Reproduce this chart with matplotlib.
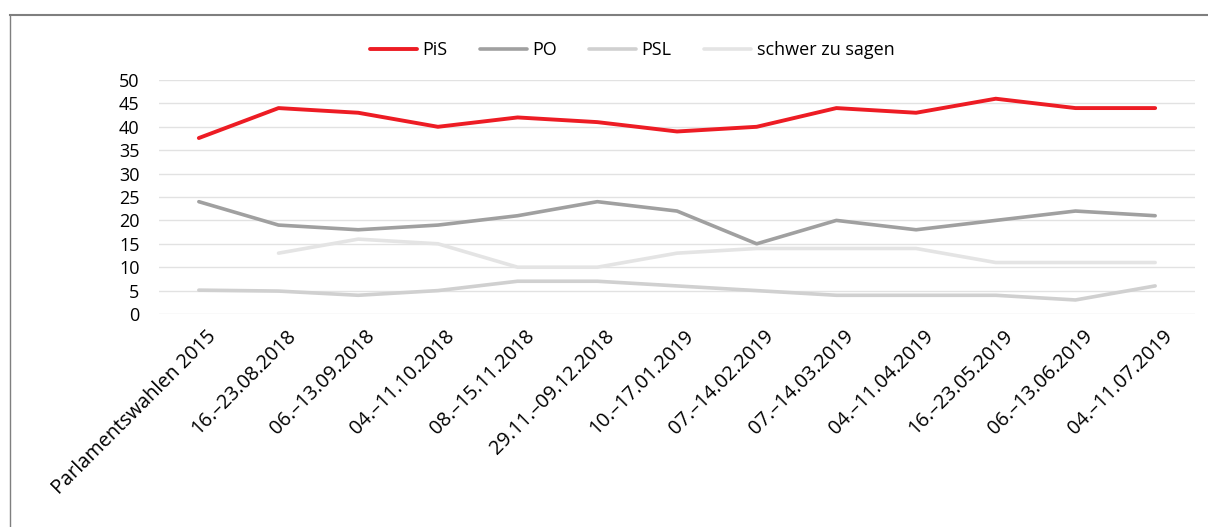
import numpy as np
import matplotlib.pyplot as plt
import matplotlib.transforms as mtransforms
from matplotlib.lines import Line2D

# Daten (Umfragewerte in %)
termine = ["Parlamentswahlen 2015", "16.–23.08.2018", "06.–13.09.2018", "04.–11.10.2018",
           "08.–15.11.2018", "29.11.–09.12.2018", "10.–17.01.2019", "07.–14.02.2019",
           "07.–14.03.2019", "04.–11.04.2019", "16.–23.05.2019", "06.–13.06.2019",
           "04.–11.07.2019"]
pis = [37.6, 44, 43, 40, 42, 41, 39, 40, 44, 43, 46, 44, 44]
po = [24, 19, 18, 19, 21, 24, 22, 15, 20, 18, 20, 22, 21]
psl = [5.1, 4.9, 4, 5, 7, 7, 6, 5, 4, 4, 4, 3, 6]
schwer = [np.nan, 13, 16, 15, 10, 10, 13, 14, 14, 14, 11, 11, 11]
yticks = [0, 5, 10, 15, 20, 25, 30, 35, 40, 45, 50]

plt.rcParams['font.family'] = ['Open Sans', 'DejaVu Sans']

fig = plt.figure(figsize=(12.08, 5.27), dpi=100)
ax = fig.add_axes([159/1208, 1 - 314/527, (1195-159)/1208, (314-80)/527])

x = np.arange(len(termine))
ax.plot(x, pis, color='#ED1C24', lw=2.8, label='PiS', solid_capstyle='round')
ax.plot(x, po, color='#A0A0A0', lw=2.6, label='PO', solid_capstyle='round')
ax.plot(x, psl, color='#D0D0D0', lw=2.6, label='PSL', solid_capstyle='round')
ax.plot(x, schwer, color='#E4E4E4', lw=2.6, label='schwer zu sagen', solid_capstyle='round')

ax.set_xlim(-0.5, len(termine) - 0.5)
ax.set_ylim(0, 50)
ax.set_yticks(yticks)
ax.set_xticks(x)
ax.set_xticklabels(termine, rotation=45, ha='right', rotation_mode='anchor', fontsize=14.3)
ax.tick_params(axis='both', length=0)
ax.tick_params(axis='y', labelsize=13, pad=14)
ax.tick_params(axis='x', pad=9)
# Beschriftungen etwas nach rechts schieben
offset = mtransforms.ScaledTranslation(7/100, 0, fig.dpi_scale_trans)
for lab in ax.get_xticklabels():
    lab.set_transform(lab.get_transform() + offset)
ax.grid(True, axis='y', color='#E2E2E2', lw=1)
ax.set_axisbelow(True)
for s in ax.spines.values():
    s.set_visible(False)

fig.legend(loc='center', bbox_to_anchor=(632/1208, 1 - 50/527), ncol=4, frameon=False,
           fontsize=13, handlelength=2.6, columnspacing=1.8, handletextpad=0.3)

# Rahmen
fig.add_artist(Line2D([10/1208, 1], [1 - 15/527, 1 - 15/527], color='#7F7F7F', lw=1.5))
fig.add_artist(Line2D([10/1208, 10/1208], [0, 1 - 15/527], color='#7F7F7F', lw=1))

fig.savefig('out.png', dpi=100)
